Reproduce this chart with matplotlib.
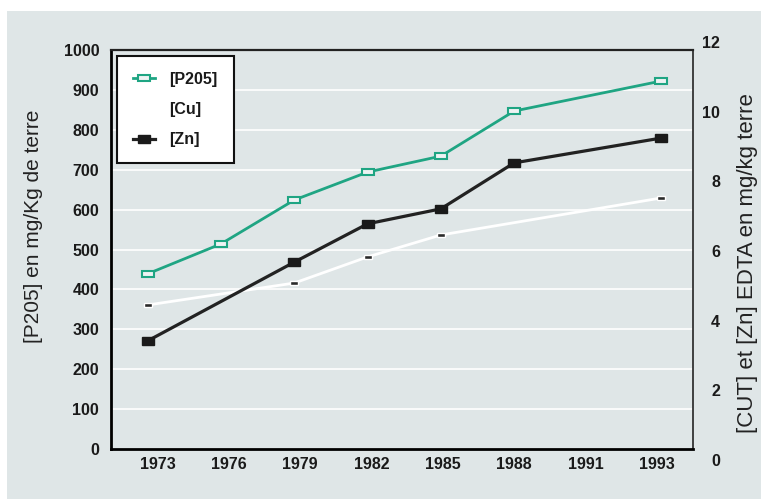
import matplotlib
matplotlib.use('Agg')
import matplotlib.pyplot as plt
from matplotlib.markers import MarkerStyle
from matplotlib.transforms import Affine2D
from matplotlib.patches import Rectangle

plt.rcParams['font.family'] = ['Liberation Sans', 'DejaVu Sans']

# categories (evenly spaced on the axis, 1993 included as last slot)
years = ['1973', '1976', '1979', '1982', '1985', '1988', '1991', '1993']

# [P205] mg/kg (left axis)
p_idx = [0, 1, 2, 3, 4, 5, 7]
p205 = [439, 514, 624, 694, 734, 847, 922]

# [Cu] and [Zn] EDTA mg/kg (right axis)
cu_idx = [0, 2, 3, 4, 7]
cu = [4.45, 5.08, 5.83, 6.46, 7.52]
zn_idx = [0, 2, 3, 4, 5, 7]
zn = [3.42, 5.68, 6.78, 7.21, 8.53, 9.24]

bg = '#dfe6e7'
green = '#1fa583'

W, H = 761, 499
fig = plt.figure(figsize=(W / 100, H / 100), dpi=100)
fig.patch.set_facecolor('white')
fig.patches.append(Rectangle((7 / W, 0), 1, (H - 11) / H, transform=fig.transFigure,
                             facecolor=bg, edgecolor='none', zorder=-10))

# main axes: frame from x=111..693, y=50..449 px
ax = fig.add_axes([111 / W, (H - 449) / H, (693 - 111) / W, (449 - 50) / H])
ax.set_facecolor(bg)
ax.set_xlim(-0.5, 7.44)
ax.set_ylim(0, 1000)
ax.set_yticks(range(0, 1001, 100))
ax.set_xticks([])
ax.yaxis.grid(True, color='white', lw=1.2)
ax.set_axisbelow(True)
ax.tick_params(axis='y', length=0, labelsize=11.5, colors='#1a1a1a', pad=8.5)
for lab in ax.get_yticklabels():
    lab.set_fontweight('bold')
ax.spines['left'].set_linewidth(2)
ax.spines['bottom'].set_linewidth(2)
ax.spines['top'].set_linewidth(1.6)
ax.spines['top'].set_color('#222222')
ax.spines['right'].set_linewidth(1.3)
ax.spines['right'].set_color('#333333')

# year labels sit on a slightly tighter spacing than the points
def to_lab(x):
    return (148 + 73.3 * x - 158) / 71.29

def from_lab(u):
    return (158 + 71.29 * u - 148) / 73.3

sec = ax.secondary_xaxis('bottom', functions=(to_lab, from_lab))
sec.spines['bottom'].set_visible(False)
sec.set_xticks(range(len(years)))
sec.set_xticklabels(years)
sec.tick_params(axis='x', length=0, labelsize=11.5, colors='#1a1a1a', pad=5.5)
for lab in sec.get_xticklabels():
    lab.set_fontweight('bold')

m_open = MarkerStyle('s', transform=Affine2D().scale(1.7, 1.0))
m_fill = MarkerStyle('s', transform=Affine2D().scale(1.55, 1.0))
m_dash = MarkerStyle('s', transform=Affine2D().scale(2.3, 1.0))

lp, = ax.plot(p_idx, p205, color=green, lw=2, marker=m_open, ms=5,
              mfc='#eef3f3', mec=green, mew=1.5, label='[P205]', zorder=3)

# right scale: 0 at y=460 px, 12 at y=42 px
axr = fig.add_axes([111 / W, (H - 460) / H, (693 - 111) / W, (460 - 42) / H])
axr.set_xlim(ax.get_xlim())
axr.set_ylim(0, 12)
axr.patch.set_visible(False)
for s in axr.spines.values():
    s.set_visible(False)
axr.xaxis.set_visible(False)
axr.yaxis.tick_right()
axr.set_yticks(range(0, 13, 2))
axr.tick_params(axis='y', length=0, labelsize=11.5, colors='#1a1a1a', pad=19.5)
for lab in axr.get_yticklabels():
    lab.set_fontweight('bold')
    lab.set_horizontalalignment('right')

lc, = axr.plot(cu_idx, cu, color='white', lw=2, marker=m_dash, ms=2.6,
               mfc='#2a2a2a', mec='white', mew=1, label='[Cu]', zorder=3)
lz, = axr.plot(zn_idx, zn, color='#222222', lw=2.3, marker=m_fill, ms=5.8,
               mfc='#1a1a1a', mec='#1a1a1a', label='[Zn]', zorder=4)

leg = ax.legend(handles=[lp, lc, lz], loc='upper left', bbox_to_anchor=(0.01, 0.985),
                frameon=True, fancybox=False, framealpha=1, edgecolor='#111111',
                borderpad=1.0, labelspacing=0.95, handlelength=1.4, handletextpad=0.9,
                borderaxespad=0, prop={'size': 11.5, 'weight': 'bold'})
leg.get_frame().set_linewidth(1.5)
leg.legend_handles[1].set_marker('None')
for t in leg.get_texts():
    t.set_color('#1a1a1a')

fig.text(34 / W, 1 - 226 / H, '[P205] en mg/Kg de terre', rotation=90,
         ha='center', va='center', fontsize=15, color='#222222')
fig.text(748 / W, 1 - 263 / H, '[CUT] et [Zn] EDTA en mg/kg terre', rotation=90,
         ha='center', va='center', fontsize=16, color='#222222')

fig.savefig('out.png', dpi=100, facecolor=fig.get_facecolor())
